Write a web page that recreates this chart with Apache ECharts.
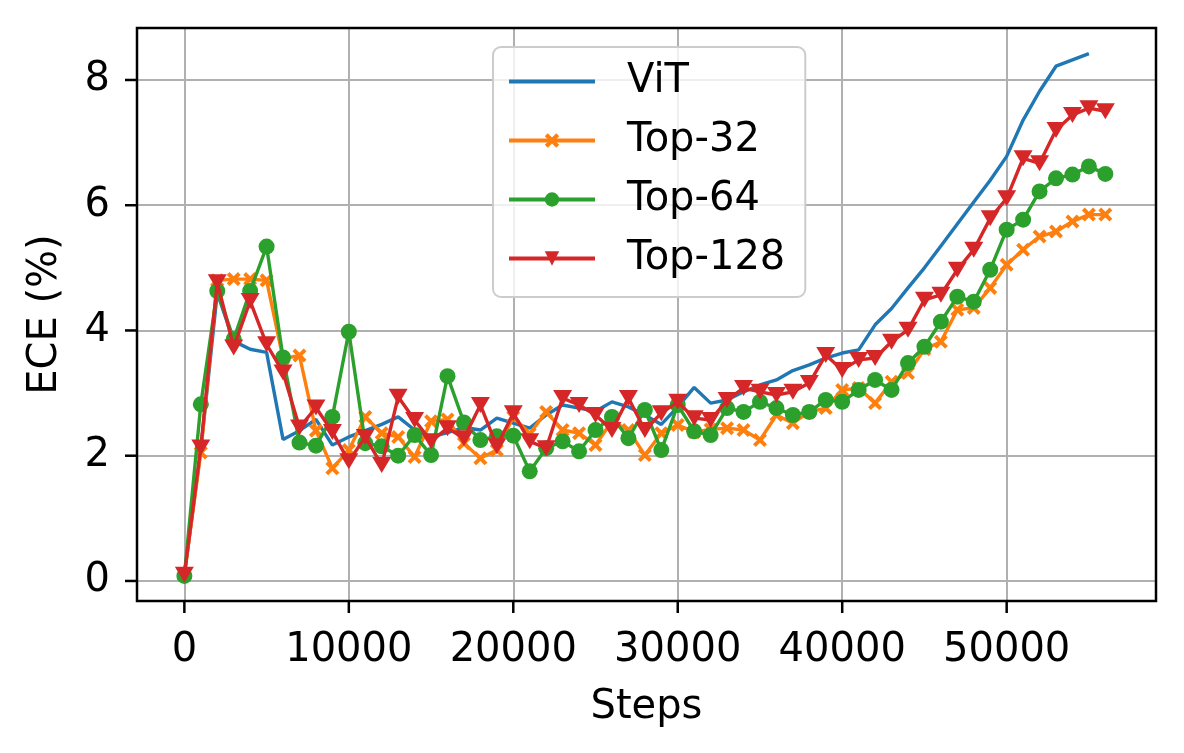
<!DOCTYPE html>
<html>
<head>
<meta charset="utf-8">
<script src="https://cdn.jsdelivr.net/npm/echarts@6/dist/echarts.min.js"></script>
<style>
html,body{margin:0;padding:0;background:#fff;}
#chart{width:1184px;height:753px;}
</style>
</head>
<body>
<div id="chart"></div>
<script>
const steps = [];
for (let k = 0; k <= 56; k++) steps.push(k * 1000);

// tick values
const xTicks = [0, 10000, 20000, 30000, 40000, 50000];
const yTicks = [0, 2, 4, 6, 8];
const xTickMin = 0, xTickMax = 50000, xTickStep = 10000;
const yTickMin = 0, yTickMax = 8, yTickStep = 2;

const vit = [0.1, 2.1, 4.6, 3.83, 3.7, 3.65, 2.26, 2.4, 2.58, 2.17,
  2.3, 2.4, 2.5, 2.62, 2.41, 2.3, 2.37, 2.45, 2.41, 2.6,
  2.52, 2.44, 2.65, 2.81, 2.76, 2.71, 2.86, 2.78, 2.65, 2.5,
  2.78, 3.09, 2.84, 2.89, 3.02, 3.13, 3.21, 3.36, 3.45, 3.56,
  3.64, 3.69, 4.09, 4.35, 4.68, 5.0, 5.35, 5.7, 6.05, 6.4,
  6.78, 7.36, 7.82, 8.22, 8.32, 8.42];

const top32 = [0.1, 2.05, 4.8, 4.82, 4.82, 4.8, 3.55, 3.6, 2.4, 1.8,
  2.09, 2.62, 2.36, 2.3, 1.98, 2.55, 2.58, 2.2, 1.96, 2.09,
  2.62, 2.35, 2.7, 2.41, 2.36, 2.17, 2.55, 2.41, 2.01, 2.36,
  2.49, 2.38, 2.42, 2.44, 2.41, 2.25, 2.65, 2.52, 2.7, 2.76,
  3.05, 3.08, 2.84, 3.18, 3.32, 3.7, 3.82, 4.33, 4.36, 4.68,
  5.05, 5.29, 5.5, 5.58, 5.74, 5.85, 5.85];

const top64 = [0.08, 2.82, 4.63, 3.86, 4.63, 5.34, 3.57, 2.21, 2.16, 2.62,
  3.98, 2.2, 2.15, 2.0, 2.33, 2.01, 3.27, 2.53, 2.25, 2.31,
  2.32, 1.75, 2.12, 2.23, 2.07, 2.41, 2.62, 2.28, 2.73, 2.09,
  2.81, 2.39, 2.33, 2.76, 2.7, 2.86, 2.76, 2.65, 2.7, 2.89,
  2.86, 3.05, 3.21, 3.05, 3.48, 3.74, 4.14, 4.54, 4.46, 4.97,
  5.61, 5.77, 6.22, 6.43, 6.49, 6.62, 6.5];

const top128 = [0.1, 2.13, 4.77, 3.73, 4.47, 3.78, 3.33, 2.45, 2.77, 2.38,
  1.91, 2.3, 1.85, 2.94, 2.57, 2.23, 2.44, 2.28, 2.81, 2.15,
  2.68, 2.23, 2.12, 2.92, 2.81, 2.65, 2.41, 2.92, 2.41, 2.68,
  2.86, 2.6, 2.57, 2.89, 3.08, 3.02, 2.97, 3.02, 3.16, 3.61,
  3.37, 3.53, 3.56, 3.82, 4.01, 4.49, 4.57, 4.97, 5.29, 5.79,
  6.11, 6.75, 6.67, 7.2, 7.44, 7.55, 7.5];

function pairs(arr) { return arr.map((v, i) => [steps[i], v]); }

// ---- layout ----
const W = 1184, H = 753;
const G = {left: 137, right: 28, top: 28, bottom: 152};
const XMIN = -2880, XMAX = 59080, YMIN = -0.32, YMAX = 8.83;
const TICK = 12;
const plotW = W - G.left - G.right, plotH = H - G.top - G.bottom;
const pxX = v => G.left + (v - XMIN) / (XMAX - XMIN) * plotW;
const pxY = v => G.top + (YMAX - v) / (YMAX - YMIN) * plotH;
const tL = pxX(xTickMin), tR = W - pxX(xTickMax);
const tT = pxY(yTickMax), tB = H - pxY(yTickMin);

const FONT = 'DejaVu Sans';
const XMARK = 'path://M0,2L2,0L5,3L8,0L10,2L7,5L10,8L8,10L5,7L2,10L0,8L3,5Z';
const TRI = 'path://M0,0L20,0L10,17Z';
const hidden = {axisLine: {show: false}, axisTick: {show: false}, axisLabel: {show: false}, splitLine: {show: false}};
const gridLine = {show: true, lineStyle: {color: '#b0b0b0', width: 2}};
const labelStyle = {fontSize: 40, color: '#000', fontFamily: FONT};

function xTickItem(params, api) {
  const p = api.coord([api.value(0), YMIN]);
  return {type: 'line', shape: {x1: p[0], y1: p[1], x2: p[0], y2: p[1] + TICK},
    style: {stroke: '#000', lineWidth: 2.5}};
}
function yTickItem(params, api) {
  const p = api.coord([XMIN, api.value(1)]);
  return {type: 'line', shape: {x1: p[0] - TICK, y1: p[1], x2: p[0], y2: p[1]},
    style: {stroke: '#000', lineWidth: 2.5}};
}

const chart = echarts.init(document.getElementById('chart'), null, {renderer: 'canvas'});
chart.setOption({
  animation: false,
  backgroundColor: '#ffffff',
  textStyle: {fontFamily: FONT},
  grid: [
    {left: G.left, right: G.right, top: G.top, bottom: G.bottom, show: true, borderColor: '#000', borderWidth: 2.5, backgroundColor: 'transparent', z: 3},
    {left: tL, right: tR, top: tT, bottom: tB, show: false},
    {left: tL, right: tR, top: G.top, bottom: G.bottom, show: false},
    {left: G.left, right: G.right, top: tT, bottom: tB, show: false}
  ],
  xAxis: [
    Object.assign({type: 'value', gridIndex: 0, min: XMIN, max: XMAX,
      name: 'Steps', nameLocation: 'middle', nameGap: 87,
      nameTextStyle: Object.assign({}, labelStyle)}, hidden),
    {type: 'value', gridIndex: 1, min: xTickMin, max: xTickMax, interval: xTickStep, position: 'bottom',
      offset: (H - G.bottom) - pxY(yTickMin),
      axisLine: {show: false, onZero: false}, axisTick: {show: false},
      axisLabel: Object.assign({margin: 30, formatter: v => String(v)}, labelStyle),
      splitLine: {show: false}},
    Object.assign({type: 'value', gridIndex: 2, min: xTickMin, max: xTickMax, interval: xTickStep}, hidden, {splitLine: gridLine}),
    Object.assign({type: 'value', gridIndex: 3, min: 0, max: 1}, hidden)
  ],
  yAxis: [
    Object.assign({type: 'value', gridIndex: 0, min: YMIN, max: YMAX,
      name: 'ECE (%)', nameLocation: 'middle', nameGap: 71,
      nameTextStyle: Object.assign({}, labelStyle)}, hidden),
    {type: 'value', gridIndex: 1, min: yTickMin, max: yTickMax, interval: yTickStep, position: 'left',
      offset: pxX(xTickMin) - G.left,
      axisLine: {show: false, onZero: false}, axisTick: {show: false},
      axisLabel: Object.assign({margin: 27, formatter: v => String(v)}, labelStyle),
      splitLine: {show: false}},
    Object.assign({type: 'value', gridIndex: 2, min: 0, max: 1}, hidden),
    Object.assign({type: 'value', gridIndex: 3, min: yTickMin, max: yTickMax, interval: yTickStep}, hidden, {splitLine: gridLine})
  ],
  legend: {
    orient: 'vertical', left: 493, top: 47, z: 10,
    padding: [14, 20, 18, 14],
    itemWidth: 86, itemHeight: 18, itemGap: 18,
    backgroundColor: 'rgba(255,255,255,0.8)', borderColor: '#cccccc', borderWidth: 2, borderRadius: 8,
    lineStyle: {width: 4},
    textStyle: {fontSize: 40, color: '#000', fontFamily: FONT, lineHeight: 41, padding: [0, 0, 0, 27]},
    data: [{name: 'ViT', itemStyle: {opacity: 0}}, 'Top-32', 'Top-64', 'Top-128']
  },
  series: [
    {name: 'ViT', type: 'line', z: 4, xAxisIndex: 0, yAxisIndex: 0, data: pairs(vit), showSymbol: false, symbol: 'none',
      itemStyle: {color: '#1f77b4'}, lineStyle: {color: '#1f77b4', width: 3.4}},
    {name: 'Top-32', type: 'line', z: 5, xAxisIndex: 0, yAxisIndex: 0, data: pairs(top32), symbol: XMARK, symbolSize: 14,
      itemStyle: {color: '#ff7f0e'}, lineStyle: {color: '#ff7f0e', width: 3.4}},
    {name: 'Top-64', type: 'line', z: 6, xAxisIndex: 0, yAxisIndex: 0, data: pairs(top64), symbol: 'circle', symbolSize: 16,
      itemStyle: {color: '#2ca02c'}, lineStyle: {color: '#2ca02c', width: 3.4}},
    {name: 'Top-128', type: 'line', z: 7, xAxisIndex: 0, yAxisIndex: 0, data: pairs(top128), symbol: TRI, symbolSize: [19, 16],
      itemStyle: {color: '#d62728'}, lineStyle: {color: '#d62728', width: 3.4}},
    {name: 'xticks', type: 'custom', xAxisIndex: 0, yAxisIndex: 0, clip: false, silent: true, z: 8,
      data: xTicks.map(v => [v, YMIN]), encode: {x: 0, y: 1}, renderItem: xTickItem},
    {name: 'yticks', type: 'custom', xAxisIndex: 0, yAxisIndex: 0, clip: false, silent: true, z: 8,
      data: yTicks.map(v => [XMIN, v]), encode: {x: 0, y: 1}, renderItem: yTickItem}
  ]
});
</script>
</body>
</html>
